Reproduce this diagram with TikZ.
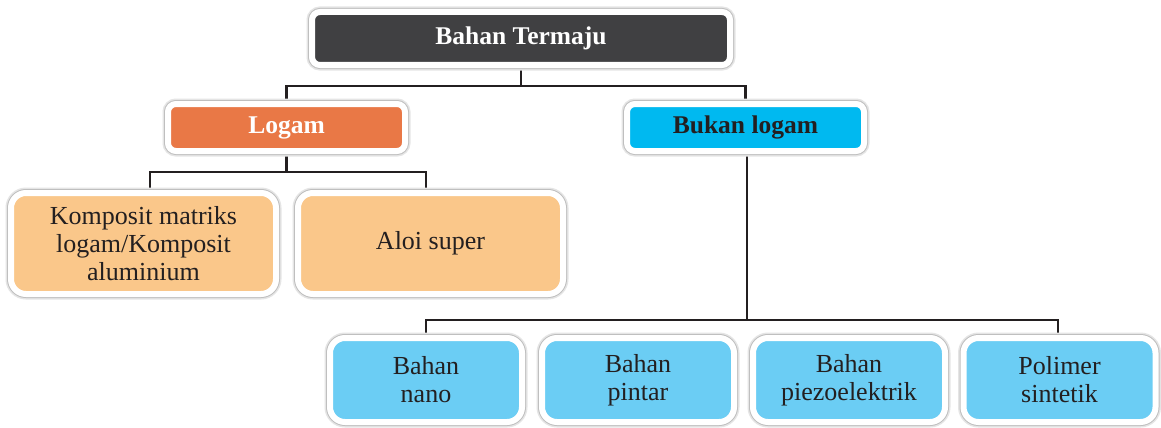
\documentclass[tikz,border=0pt]{standalone}
\usepackage{fontspec}
\setmainfont{Liberation Serif}
\usetikzlibrary{backgrounds}
\definecolor{ink}{RGB}{35,31,32}
\definecolor{topc}{RGB}{64,64,66}
\definecolor{orangec}{RGB}{233,120,70}
\definecolor{cyanc}{RGB}{0,185,240}
\definecolor{peachc}{RGB}{250,199,138}
\definecolor{lbluec}{RGB}{107,205,244}
\begin{document}
\begin{tikzpicture}[x=1pt,y=-1pt,
  box/.style={rounded corners=9pt, draw=white, line width=6pt,
    preaction={draw=black!10, line width=11pt},
    preaction={draw=black!25, line width=8pt},
    align=center, text=ink, inner sep=0pt,
    font=\fontsize{26}{28}\selectfont},
  headbox/.style={box, rounded corners=8pt, minimum width=237pt, minimum height=47pt, font=\fontsize{25.5}{28}\selectfont\bfseries},
  midbox/.style={box, fill=peachc, rounded corners=15pt, minimum width=265pt, minimum height=101pt},
  lowbox/.style={box, fill=lbluec, rounded corners=15pt, minimum width=192pt, minimum height=84pt},
  link/.style={draw=ink, line width=2.4pt}]
\useasboundingbox (0,0) rectangle (1161,428);

\node[headbox, fill=topc, text=white, minimum width=418pt, minimum height=53pt] (top) at (521,38.5) {Bahan Termaju};
\node[headbox, fill=orangec, text=white] (logam) at (286.5,127.5) {Logam};
\node[headbox, fill=cyanc] (bukan) at (745.5,127.5) {Bukan logam};

\node[midbox] (komp) at (143.5,243.5) {Komposit matriks\\logam/Komposit\\aluminium};
\node[midbox] (aloi) at (430.5,243.5) {Aloi super};

\node[lowbox] (nano) at (426,380) {Bahan\\nano};
\node[lowbox] (pintar) at (638,380) {Bahan\\pintar};
\node[lowbox] (piezo) at (849,380) {Bahan\\piezoelektrik};
\node[lowbox] (poli) at (1059.5,380) {Polimer\\sintetik};

\begin{pgfonlayer}{background}
\fill[white] (0,0) rectangle (1161,428);
\draw[link] (top.south) -- (top.south |- 0,86) -| (logam.north);
\draw[link] (top.south |- 0,86) -| (bukan.north);
\draw[link] (logam.south) -- (logam.south |- 0,172) -| ([xshift=6.5pt]komp.north);
\draw[link] (logam.south |- 0,172) -| ([xshift=-4.5pt]aloi.north);
\draw[link] ([xshift=1.5pt]bukan.south) -- ([xshift=1.5pt]bukan.south |- 0,320) -| (nano.north);
\draw[link] ([xshift=1.5pt]bukan.south |- 0,320) -| ([xshift=-1.5pt]poli.north);
\end{pgfonlayer}
\end{tikzpicture}
\end{document}
